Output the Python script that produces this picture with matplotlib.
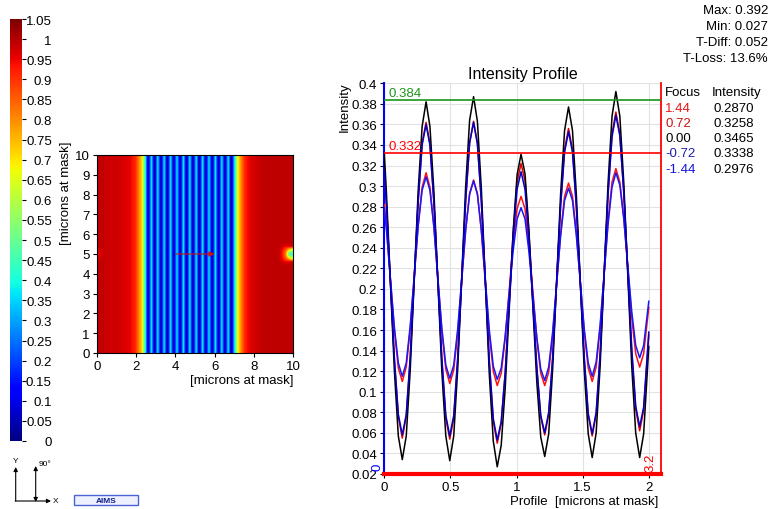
import matplotlib.pyplot as plt
import numpy as np
from matplotlib.patches import Rectangle

plt.rcParams["font.family"] = ["Liberation Sans", "DejaVu Sans"]

W, H = 772, 510

# --- intensity map (columns across x, 0..10 microns) ---
heat_columns = [
    0.99, 0.99, 0.985, 0.98, 0.98, 0.98, 0.975, 0.975, 0.97, 0.965,
    0.955, 0.94, 0.91, 0.82, 0.72, 0.45,
    0.03, 0.38, 0.03, 0.38, 0.03, 0.38, 0.03, 0.38, 0.03, 0.38,
    0.03, 0.38, 0.03, 0.38, 0.03, 0.38, 0.03, 0.38, 0.03, 0.38,
    0.03, 0.38, 0.03, 0.38, 0.03, 0.38, 0.03, 0.38,
    0.68, 0.80, 0.90, 0.94, 0.96, 0.97, 0.98, 0.985, 0.99, 0.99,
    0.99, 0.99, 0.99, 0.99, 0.99, 0.99, 0.99, 0.99, 0.99,
]
left_spot = [
    [0.985, 0.99, 0.985],
    [0.95, 0.97, 0.985],
    [0.93, 0.955, 0.98],
    [0.95, 0.97, 0.985],
    [0.985, 0.99, 0.985],
]
right_spot = [
    [0.99, 0.97, 0.95, 0.96, 0.97, 0.97],
    [0.98, 0.93, 0.85, 0.70, 0.60, 0.60],
    [0.98, 0.92, 0.80, 0.45, 0.42, 0.42],
    [0.98, 0.93, 0.85, 0.70, 0.60, 0.60],
    [0.99, 0.97, 0.95, 0.96, 0.97, 0.97],
]
profile_start = (4.0, 5.0)
profile_end = (6.0, 5.0)

cbar_ticks = [0, 0.05, 0.1, 0.15, 0.2, 0.25, 0.3, 0.35, 0.4, 0.45, 0.5,
              0.55, 0.6, 0.65, 0.7, 0.75, 0.8, 0.85, 0.9, 0.95, 1.0, 1.05]

# --- intensity profile ---
profile_um = [
    0.0, 0.016, 0.046, 0.076, 0.106,
    0.136, 0.166, 0.196, 0.226, 0.256, 0.286, 0.316,
    0.345, 0.375, 0.405, 0.435, 0.465, 0.495,
    0.525, 0.555, 0.585, 0.615, 0.645, 0.675,
    0.704, 0.734, 0.764, 0.794, 0.824, 0.854,
    0.884, 0.914, 0.944, 0.974, 1.004, 1.034,
    1.064, 1.093, 1.123, 1.153, 1.183, 1.213,
    1.243, 1.273, 1.303, 1.333, 1.363, 1.393,
    1.423, 1.452, 1.482, 1.512, 1.542, 1.572,
    1.602, 1.632, 1.662, 1.692, 1.722, 1.751,
    1.781, 1.811, 1.841, 1.871, 1.901, 1.931,
    1.961, 2.0,
]
focus_p144 = [
    0.282, 0.260, 0.210, 0.160, 0.123,
    0.110, 0.124, 0.161, 0.211, 0.262, 0.299, 0.313,
    0.299, 0.261, 0.210, 0.159, 0.122, 0.108,
    0.121, 0.157, 0.207, 0.257, 0.293, 0.306,
    0.293, 0.256, 0.206, 0.156, 0.120, 0.106,
    0.118, 0.152, 0.198, 0.244, 0.278, 0.290,
    0.278, 0.244, 0.198, 0.152, 0.118, 0.106,
    0.119, 0.155, 0.204, 0.254, 0.290, 0.303,
    0.290, 0.255, 0.207, 0.158, 0.123, 0.110,
    0.124, 0.162, 0.214, 0.266, 0.304, 0.317,
    0.304, 0.269, 0.221, 0.172, 0.137, 0.124,
    0.137, 0.182,
]
focus_p072 = [
    0.316, 0.282, 0.207, 0.131, 0.076,
    0.055, 0.076, 0.132, 0.209, 0.285, 0.342, 0.362,
    0.341, 0.285, 0.208, 0.131, 0.074, 0.054,
    0.074, 0.131, 0.208, 0.285, 0.342, 0.363,
    0.342, 0.285, 0.207, 0.128, 0.071, 0.050,
    0.069, 0.118, 0.186, 0.254, 0.304, 0.322,
    0.305, 0.256, 0.190, 0.124, 0.075, 0.058,
    0.078, 0.132, 0.207, 0.282, 0.336, 0.356,
    0.336, 0.281, 0.206, 0.132, 0.077, 0.057,
    0.078, 0.135, 0.214, 0.293, 0.351, 0.372,
    0.351, 0.294, 0.217, 0.139, 0.083, 0.062,
    0.082, 0.155,
]
focus_000 = [
    0.332, 0.294, 0.207, 0.121, 0.057,
    0.034, 0.057, 0.121, 0.208, 0.295, 0.358, 0.382,
    0.358, 0.295, 0.207, 0.120, 0.057, 0.033,
    0.057, 0.122, 0.210, 0.299, 0.364, 0.387,
    0.363, 0.297, 0.207, 0.117, 0.052, 0.027,
    0.048, 0.103, 0.179, 0.255, 0.311, 0.331,
    0.312, 0.258, 0.184, 0.110, 0.056, 0.037,
    0.059, 0.122, 0.207, 0.292, 0.354, 0.377,
    0.354, 0.292, 0.207, 0.121, 0.059, 0.036,
    0.060, 0.125, 0.214, 0.303, 0.368, 0.392,
    0.368, 0.303, 0.214, 0.125, 0.060, 0.036,
    0.059, 0.144,
]
focus_m072 = [
    0.315, 0.282, 0.207, 0.133, 0.078,
    0.058, 0.078, 0.134, 0.209, 0.285, 0.340, 0.360,
    0.340, 0.284, 0.208, 0.133, 0.077, 0.057,
    0.077, 0.133, 0.209, 0.286, 0.342, 0.362,
    0.341, 0.285, 0.208, 0.130, 0.074, 0.053,
    0.071, 0.118, 0.184, 0.249, 0.297, 0.314,
    0.297, 0.251, 0.187, 0.124, 0.077, 0.060,
    0.080, 0.133, 0.207, 0.280, 0.333, 0.353,
    0.333, 0.280, 0.206, 0.133, 0.079, 0.059,
    0.080, 0.137, 0.214, 0.292, 0.348, 0.369,
    0.349, 0.293, 0.218, 0.142, 0.086, 0.066,
    0.085, 0.158,
]
focus_m144 = [
    0.279, 0.258, 0.210, 0.163, 0.128,
    0.115, 0.128, 0.164, 0.212, 0.261, 0.296, 0.309,
    0.296, 0.260, 0.211, 0.162, 0.126, 0.113,
    0.126, 0.161, 0.209, 0.257, 0.292, 0.305,
    0.292, 0.257, 0.209, 0.160, 0.125, 0.112,
    0.123, 0.154, 0.195, 0.237, 0.268, 0.279,
    0.268, 0.237, 0.195, 0.153, 0.122, 0.111,
    0.124, 0.158, 0.205, 0.251, 0.286, 0.298,
    0.286, 0.252, 0.207, 0.161, 0.128, 0.115,
    0.129, 0.165, 0.214, 0.263, 0.299, 0.313,
    0.301, 0.268, 0.223, 0.178, 0.145, 0.133,
    0.145, 0.188,
]

focus_labels = ["1.44", "0.72", "0.00", "-0.72", "-1.44"]
focus_intensity = ["0.2870", "0.3258", "0.3465", "0.3338", "0.2976"]
focus_colors = ["#e81818", "#cc1010", "#000000", "#2020a8", "#1414dc"]
line_colors = ["#ff1010", "#e00000", "#000000", "#0000c8", "#1818ff"]

upper_level = 0.384
lower_level = 0.332
stats = ["Max: 0.392", "Min: 0.027", "T-Diff: 0.052", "T-Loss: 13.6%"]


def box(left, top, right, bottom):
    return [left / W, 1 - bottom / H, (right - left) / W, (bottom - top) / H]


def fxy(x, y):
    return x / W, 1 - y / H


fig = plt.figure(figsize=(W / 100, H / 100), dpi=100)

# intensity map
ax_map = fig.add_axes(box(96.7, 156, 293.3, 354))
heat = np.tile(np.array(heat_columns), (51, 1))
heat[23:28, 0:3] = left_spot
heat[23:28, 57:63] = right_spot
im = ax_map.imshow(heat, extent=(-0.08125, 10.15625, 0, 10), origin="lower",
                   cmap="jet", vmin=0, vmax=1.05, interpolation="bilinear",
                   interpolation_stage="data", aspect="auto")
ax_map.set_xlim(0, 10)
ax_map.set_ylim(0, 10)
ax_map.set_xticks(range(0, 11, 2))
ax_map.set_yticks(range(0, 11))
ax_map.tick_params(labelsize=9.5, length=3, width=0.8, pad=2)
ax_map.annotate("", xy=profile_end, xytext=profile_start,
                arrowprops=dict(arrowstyle="-|>", color="#d01010", lw=0.8,
                                mutation_scale=8, shrinkA=0, shrinkB=0))

fig.text(*fxy(293, 381), "[microns at mask]", ha="right", va="center", fontsize=9.5)
fig.text(*fxy(66, 193), "[microns at mask]", ha="center", va="center",
         rotation=90, fontsize=9.5)

# colour bar
cax = fig.add_axes(box(10, 20, 22, 442))
cb = fig.colorbar(im, cax=cax, ticks=cbar_ticks)
cb.outline.set_visible(False)
cb.ax.set_yticklabels([f"{t:g}" for t in cbar_ticks])
cax.tick_params(length=3, width=0.8, pad=18.5, labelsize=9.5)
for label in cax.get_yticklabels():
    label.set_horizontalalignment("right")

# profile plot
ax = fig.add_axes(box(384.3, 84.3, 660.7, 475))
curves = [focus_p144, focus_p072, focus_000, focus_m072, focus_m144]
for idx in [0, 1, 2, 4, 3]:
    ax.plot(profile_um, curves[idx], color=line_colors[idx], lw=1.1, zorder=3)

ax.set_xlim(0, 2.09)
ax.set_ylim(0.02, 0.4)
y_ticks = [0.02, 0.04, 0.06, 0.08, 0.1, 0.12, 0.14, 0.16, 0.18, 0.2,
           0.22, 0.24, 0.26, 0.28, 0.3, 0.32, 0.34, 0.36, 0.38, 0.4]
ax.set_yticks(y_ticks)
ax.set_yticklabels([f"{t:g}" for t in y_ticks])
ax.set_xticks([0, 0.5, 1, 1.5, 2])
ax.set_xticklabels(["0", "0.5", "1", "1.5", "2"])
ax.tick_params(labelsize=9.5, length=3, width=0.8, pad=2)
ax.grid(color="#e2e2e2", lw=0.8)
ax.set_axisbelow(True)

ax.spines["top"].set_visible(False)
ax.spines["left"].set_color("#0000ff")
ax.spines["left"].set_linewidth(1.5)
ax.spines["bottom"].set_color("#ff0000")
ax.spines["bottom"].set_linewidth(3)
ax.spines["right"].set_color("#ff0000")
ax.spines["right"].set_linewidth(1.3)

ax.axhline(upper_level, color="#1a961a", lw=1.2, zorder=4)
ax.axhline(lower_level, color="#ff0000", lw=1.2, zorder=4)
ax.text(0.028, upper_level + 0.001, f"{upper_level:.3f}", color="#1a961a",
        fontsize=9.5, ha="left", va="bottom")
ax.text(0.028, lower_level + 0.001, f"{lower_level:.3f}", color="#ff0000",
        fontsize=9.5, ha="left", va="bottom")
ax.text(-0.048, 0.027, "0", color="#0000ff", fontsize=9.5, rotation=90,
        ha="center", va="center", clip_on=False)
ax.text(2.01, 0.032, "3.2", color="#ff0000", fontsize=9.5, rotation=90,
        ha="center", va="center", clip_on=False)

fig.text(*fxy(522.5, 75), "Intensity Profile", ha="center", va="center", fontsize=11.5)
fig.text(*fxy(345, 82), "Intensity", ha="center", va="top", rotation=90, fontsize=9.5)
fig.text(*fxy(658, 501.7), "Profile  [microns at mask]", ha="right", va="center",
         fontsize=9.5)

for i, line in enumerate(stats):
    fig.text(*fxy(768, 10.7 + 16 * i), line, ha="right", va="center", fontsize=9.5)

fig.text(*fxy(665, 93), "Focus", ha="left", va="center", fontsize=9.5)
fig.text(*fxy(711.7, 93), "Intensity", ha="left", va="center", fontsize=9.5)
for i in range(len(focus_labels)):
    y = 108.5 + 15.3 * i
    fig.text(*fxy(665, y), focus_labels[i], ha="left", va="center",
             fontsize=9.5, color=focus_colors[i])
    fig.text(*fxy(714, y), focus_intensity[i], ha="left", va="center", fontsize=9.5)

# orientation icon and tag
ov = fig.add_axes([0, 0, 1, 1])
ov.set_xlim(0, W)
ov.set_ylim(H, 0)
ov.axis("off")
arrow = dict(arrowstyle="-|>", lw=0.8, color="black", mutation_scale=6,
             shrinkA=0, shrinkB=0)
ov.annotate("", xy=(15.7, 468), xytext=(15.7, 502), arrowprops=arrow)
ov.annotate("", xy=(51, 502), xytext=(15.2, 502), arrowprops=arrow)
ov.annotate("", xy=(35.7, 467), xytext=(35.7, 503),
            arrowprops=dict(arrow, arrowstyle="<|-|>"))
ov.text(15.5, 462, "Y", fontsize=6, ha="center", va="center")
ov.text(53, 502, "X", fontsize=6, ha="left", va="center")
ov.text(39, 464.5, "90°", fontsize=6, ha="left", va="center")
ov.add_patch(Rectangle((74, 496), 64, 10, facecolor="#eef0ff", edgecolor="#4a64d8", lw=1))
ov.text(106, 501.2, "AIMS", fontsize=6, fontweight="bold", color="#10208a",
        ha="center", va="center")

fig.savefig("out.png", dpi=100)
